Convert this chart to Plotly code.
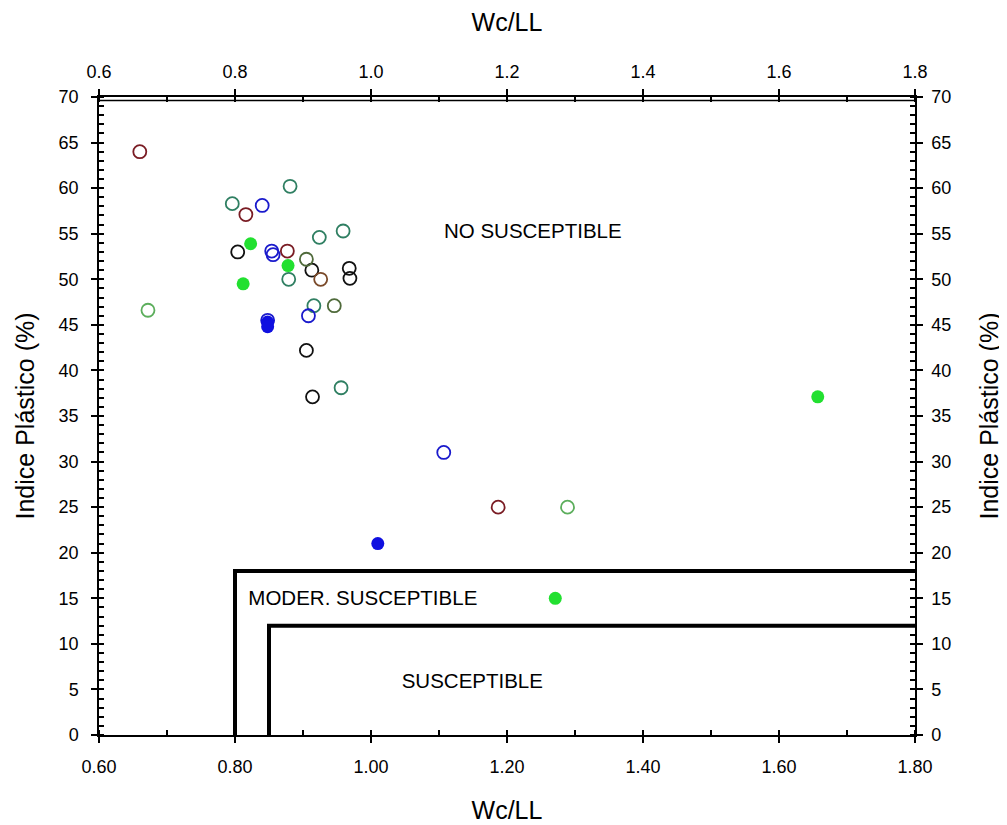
import plotly.graph_objects as go

# Wc/LL vs Indice Plastico, grouped by marker colour
maroon_x = [0.660, 0.816, 0.877, 1.187]
maroon_y = [64.0, 57.1, 53.1, 25.0]
teal_x = [0.881, 0.796, 0.959, 0.924, 0.879, 0.916, 0.956]
teal_y = [60.2, 58.3, 55.3, 54.6, 50.0, 47.1, 38.1]
blue_x = [0.840, 0.854, 0.856, 0.908, 1.107, 0.848]
blue_y = [58.1, 53.1, 52.7, 46.0, 31.0, 45.5]
black_x = [0.804, 0.913, 0.968, 0.969, 0.905, 0.914]
black_y = [53.0, 51.0, 51.2, 50.1, 42.2, 37.1]
olive_x = [0.905, 0.946]
olive_y = [52.2, 47.1]
tan_x = [0.926]
tan_y = [50.0]
lgreen_x = [0.672, 1.289]
lgreen_y = [46.6, 25.0]
green_fill_x = [0.823, 0.878, 0.812, 1.271, 1.657]
green_fill_y = [53.9, 51.5, 49.5, 15.0, 37.1]
blue_fill_x = [0.848, 0.848, 1.010]
blue_fill_y = [45.3, 44.8, 21.0]

# zone boundaries
moder_x = [0.80, 0.80, 1.80]
moder_y = [0, 18, 18]
susc_x = [0.85, 0.85, 1.80]
susc_y = [0, 12, 12]

zone_labels = ["NO SUSCEPTIBLE", "MODER. SUSCEPTIBLE", "SUSCEPTIBLE"]
zone_lx = [1.238, 0.988, 1.149]
zone_ly = [55.1, 14.8, 5.7]

FONT = "Liberation Sans, Arial, sans-serif"

fig = go.Figure()

open_groups = [
    (maroon_x, maroon_y, "#7a1c24"),
    (teal_x, teal_y, "#2f7f62"),
    (blue_x, blue_y, "#1a1acc"),
    (black_x, black_y, "#111111"),
    (olive_x, olive_y, "#4f6a3a"),
    (tan_x, tan_y, "#7a4a2a"),
    (lgreen_x, lgreen_y, "#5cae5c"),
]
for xs, ys, c in open_groups:
    fig.add_trace(go.Scatter(x=xs, y=ys, mode="markers", showlegend=False,
                             marker=dict(symbol="circle-open", size=13, color=c,
                                         line=dict(width=1.8, color=c))))

fig.add_trace(go.Scatter(x=green_fill_x, y=green_fill_y, mode="markers", showlegend=False,
                         marker=dict(symbol="circle", size=13, color="#22e030")))
fig.add_trace(go.Scatter(x=blue_fill_x, y=blue_fill_y, mode="markers", showlegend=False,
                         marker=dict(symbol="circle", size=13, color="#1010e0")))

for xs, ys in [(moder_x, moder_y), (susc_x, susc_y)]:
    fig.add_trace(go.Scatter(x=xs, y=ys, mode="lines", showlegend=False,
                             line=dict(color="black", width=4)))

fig.add_trace(go.Scatter(x=zone_lx, y=zone_ly, mode="text", text=zone_labels, showlegend=False,
                         textfont=dict(family=FONT, size=20.5, color="black")))

# invisible trace so the secondary axes are drawn
fig.add_trace(go.Scatter(x=[0.6], y=[0], xaxis="x2", yaxis="y2", mode="markers",
                         marker=dict(opacity=0), showlegend=False, hoverinfo="skip"))

axis_common = dict(showgrid=False, zeroline=False, showline=True, linecolor="black",
                   linewidth=1.5, ticks="outside", ticklen=6, tickwidth=1.5, tickcolor="black",
                   tickfont=dict(family=FONT, size=18, color="black"), automargin=False)
minor_x = dict(dtick=0.1, ticks="inside", ticklen=5, tickwidth=1.5, tickcolor="black")
minor_y = dict(dtick=1, ticks="inside", ticklen=5, tickwidth=1.5, tickcolor="black")
xticks = [0.6, 0.8, 1.0, 1.2, 1.4, 1.6, 1.8]

fig.update_layout(
    width=999, height=817,
    margin=dict(l=91, r=92, t=89, b=90),
    plot_bgcolor="white", paper_bgcolor="white",
    font=dict(family=FONT, color="black"),
    xaxis=dict(axis_common, range=[0.6, 1.8], tickvals=xticks, tickformat=".2f",
               minor=minor_x, ticklabelstandoff=9,
               title=dict(text="Wc/LL", font=dict(family=FONT, size=25), standoff=25)),
    xaxis2=dict(axis_common, range=[0.6, 1.8], overlaying="x", side="top",
                tickvals=xticks, tickformat=".1f", minor=minor_x, ticklabelstandoff=4,
                title=dict(text="Wc/LL", font=dict(family=FONT, size=25), standoff=30)),
    yaxis=dict(axis_common, range=[0, 70], dtick=5, minor=minor_y, ticklabelstandoff=9,
               title=dict(text="Indice Plástico (%)", font=dict(family=FONT, size=25), standoff=17)),
    yaxis2=dict(axis_common, range=[0, 70], dtick=5, overlaying="y", side="right",
                minor=minor_y, ticklabelstandoff=5,
                title=dict(text="Indice Plástico (%)", font=dict(family=FONT, size=25), standoff=30)),
)

# second line of the double top border
fig.add_shape(type="line", xref="paper", yref="paper", x0=0, x1=1, y0=1 - 3.5 / 638, y1=1 - 3.5 / 638,
              line=dict(color="black", width=1.5))

fig.write_html("out.html")
